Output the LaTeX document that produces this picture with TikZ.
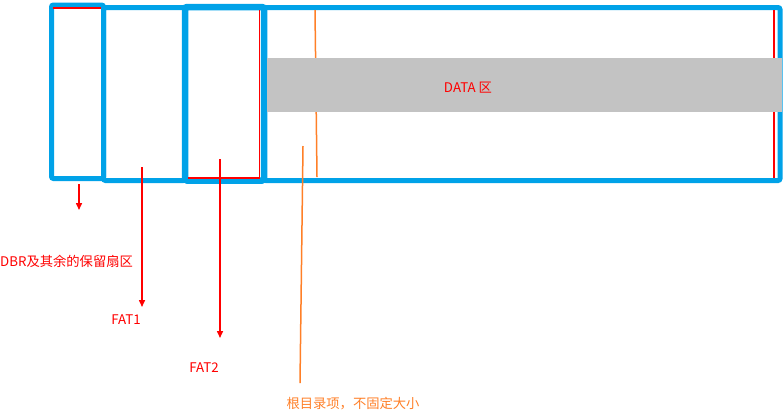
\documentclass[tikz,border=0pt]{standalone}
\usepackage{fontspec}
\setmainfont{Noto Sans CJK SC}
\usetikzlibrary{arrows.meta}
\definecolor{paintblue}{RGB}{0,162,232}
\definecolor{paintred}{RGB}{255,0,0}
\definecolor{paintorange}{RGB}{255,127,39}
\definecolor{paintgray}{RGB}{195,195,195}
\tikzset{
  part/.style={draw=paintblue, line width=5pt, rounded corners=2pt, inner sep=0pt},
  band/.style={fill=paintgray, inner sep=0pt},
  mark line/.style={paintred, line width=1.4pt},
  pointer/.style={paintred, line width=1.5pt, -{Triangle[length=7pt,width=6pt]}},
  tag/.style={font=\fontsize{13.3}{15}\selectfont, text=paintred, inner sep=0pt}
}
\begin{document}
\begin{tikzpicture}[x=1pt,y=-1pt]
    \useasboundingbox (0,0) rectangle (784,416);
    % partitions of the volume
    \node[part, minimum width=516, minimum height=173] (data) at (522,94) {};
    \node[part, minimum width=81.5, minimum height=173] (fat1) at (144.25,94) {};
    \node[part, line width=6.5pt, minimum width=79, minimum height=173.5] (fat2) at (224.5,93.75) {};
    \node[part, minimum width=52, minimum height=173.5] (dbr) at (77.5,91.75) {};
    % red marks left inside the boxes
    \draw[mark line] (53,8) -- (101,8);
    \draw[mark line] (259.5,10) -- (259.5,178) -- (188,178);
    \draw[mark line, line width=2pt] (774,10) -- (774,178);
    % root directory boundary
    \coordinate (R1) at (315,10);
    \coordinate (R2) at (317,177);
    \draw[paintorange, line width=1.5pt] (R1) -- (R2);
    \node[band, minimum width=515, minimum height=54] (databand) at (524.5,85) {};
    \node[tag] (datalbl) at (468,88) {DATA 区};
    % pointers to the labels
    \coordinate (P1) at (79,184);
    \coordinate (Q1) at (79,210);
    \coordinate (P2) at (142,167);
    \coordinate (Q2) at (142,307);
    \coordinate (P3) at (220,159);
    \coordinate (Q3) at (220,338);
    \coordinate (P4) at (303,146);
    \coordinate (Q4) at (300,383);
    \foreach \s/\e in {P1/Q1,P2/Q2,P3/Q3} \draw[pointer] (\s) -- (\e);
    \draw[paintorange, line width=1.5pt] (P4) -- (Q4);
    \node[tag, anchor=west] (dbrlbl) at (0,261) {DBR及其余的保留扇区};
    \node[tag] (fat1lbl) at (126,320) {FAT1};
    \node[tag] (fat2lbl) at (204,368) {FAT2};
    \node[tag, text=paintorange] (rootlbl) at (353,404) {根目录项，不固定大小};
\end{tikzpicture}
\end{document}
